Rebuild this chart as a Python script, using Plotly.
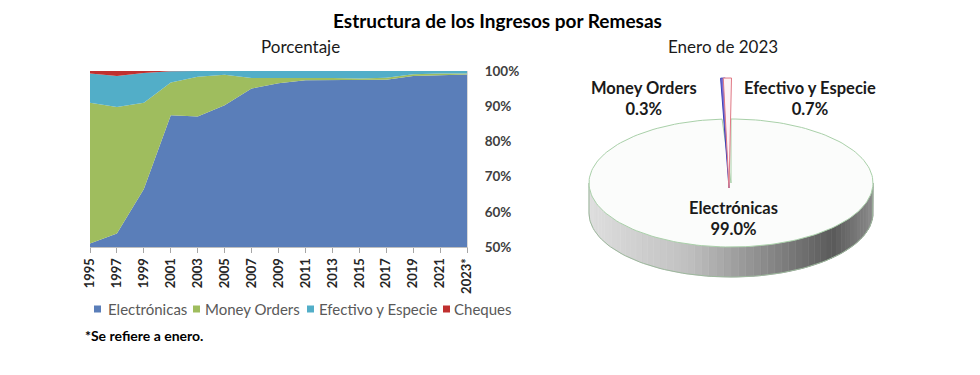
import math
import plotly.graph_objects as go

# ---------------- data ----------------
years = ["1995", "1997", "1999", "2001", "2003", "2005", "2007", "2009",
         "2011", "2013", "2015", "2017", "2019", "2021", "2023*"]
electronicas = [51.0, 53.8, 66.5, 87.4, 87.1, 90.3, 95.0, 96.5, 97.4, 97.4, 97.5, 97.5, 98.6, 98.9, 99.0]
money_orders = [40.0, 36.0, 24.5, 9.3, 11.3, 8.6, 3.0, 1.4, 0.6, 0.6, 0.4, 0.6, 0.5, 0.4, 0.3]
efectivo = [8.3, 8.8, 8.4, 3.2, 1.6, 1.1, 2.0, 2.1, 2.0, 2.0, 2.1, 1.9, 0.9, 0.7, 0.7]
cheques = [0.7, 1.4, 0.6, 0.1, 0.0, 0.0, 0.0, 0.0, 0.0, 0.0, 0.0, 0.0, 0.0, 0.0, 0.0]

series_names = ["Electrónicas", "Money Orders", "Efectivo y Especie", "Cheques"]
series_colors = ["#5a7eb9", "#9fbd5e", "#52aec8", "#c0302f"]

pie_labels = ["Electrónicas", "Money Orders", "Efectivo y Especie"]
pie_values = [99.0, 0.3, 0.7]

y_ticks = [50, 60, 70, 80, 90, 100]

W, H = 980, 375
FONT = "Lato"


def px(x):
    return x / W


def py(y):
    return 1 - y / H


fig = go.Figure()

# ---------------- stacked area ----------------
for name, vals, col in zip(series_names, [electronicas, money_orders, efectivo, cheques], series_colors):
    fig.add_trace(go.Scatter(
        x=years, y=vals, name=name, stackgroup="one", mode="lines",
        line=dict(width=0, color=col), fillcolor=col, showlegend=False,
        xaxis="x", yaxis="y", hoverinfo="x+y+name"))

# ---------------- 3D-style pie (drawn from values) ----------------
cx, cy, rx, ry, depth, pull = 731.0, 183.0, 142.0, 64.0, 30.0, 41.0
total = sum(pie_values)
angles = []
a = 0.0
for v in pie_values:
    span = 360.0 * v / total
    angles.append((a, a + span))
    a += span


def ept(phi_deg, ox=0.0, oy=0.0, dy=0.0):
    p = math.radians(phi_deg)
    return cx + ox + rx * math.sin(p), cy + oy - ry * math.cos(p) + dy


stops = [(0.0, 222), (0.35, 192), (0.65, 132), (0.86, 90), (1.0, 140)]


def gray(t):
    for (t0, g0), (t1, g1) in zip(stops[:-1], stops[1:]):
        if t0 <= t <= t1:
            g = int(round(g0 + (g1 - g0) * (t - t0) / (t1 - t0)))
            return f"rgb({g},{g},{g})"
    return "rgb(200,200,200)"


N = 60
for i in range(N):
    p0 = 90 + 180 * i / N
    p1 = 90 + 180 * (i + 1) / N
    sub = [p0 + (p1 - p0) * k / 4 for k in range(5)]
    top = [ept(p) for p in sub]
    bot = [ept(p, dy=depth) for p in reversed(sub)]
    pts = top + bot
    xm = (top[0][0] + top[-1][0]) / 2
    t = (xm - (cx - rx)) / (2 * rx)
    c = gray(t)
    fig.add_trace(go.Scatter(
        x=[q[0] for q in pts] + [pts[0][0]], y=[q[1] for q in pts] + [pts[0][1]],
        mode="lines", fill="toself", fillcolor=c, line=dict(width=0.6, color=c),
        xaxis="x2", yaxis="y2", showlegend=False, hoverinfo="skip"))

outline = [ept(90)] + [ept(90 + 180 * k / 90, dy=depth) for k in range(91)] + [ept(270)]
fig.add_trace(go.Scatter(
    x=[q[0] for q in outline], y=[q[1] for q in outline], mode="lines",
    line=dict(width=1, color="#9db89d"), xaxis="x2", yaxis="y2",
    showlegend=False, hoverinfo="skip"))

a0, a1 = angles[0]
steps = 180
face = [(cx, cy)] + [ept(a0 + (a1 - a0) * k / steps) for k in range(steps + 1)] + [(cx, cy)]
fig.add_trace(go.Scatter(
    x=[q[0] for q in face], y=[q[1] for q in face], mode="lines", fill="toself",
    fillcolor="#fbfcfb", line=dict(width=1, color="#a9d0a9"),
    xaxis="x2", yaxis="y2", showlegend=False, name=pie_labels[0], hoverinfo="name"))

sliver_style = [("#7a6ed4", "#3d3fb5"), ("#fdf3f4", "#e07a86")]
for (b0, b1), (fc, lc), lab in zip(angles[1:], sliver_style, pie_labels[1:]):
    oy = -pull
    P0 = ept(b0 - 0.6, 0, oy)
    P1 = ept(b1 + 0.2, 0, oy)
    apex = (cx - 2, cy + 5)
    poly = [P0, P1, apex, P0]
    fig.add_trace(go.Scatter(
        x=[q[0] for q in poly], y=[q[1] for q in poly], mode="lines", fill="toself",
        fillcolor=fc, line=dict(width=1, color=lc), xaxis="x2", yaxis="y2",
        showlegend=False, name=lab, hoverinfo="name"))

annotations = []
label_pos = [(733, 218), (644, 98), (810, 98)]
for lab, v, (lx, ly) in zip(pie_labels, pie_values, label_pos):
    annotations.append(dict(
        x=lx, y=ly, xref="x2", yref="y2", text=f"{lab}<br>{v:.1f}%", showarrow=False,
        font=dict(family=FONT, size=16.5, color="#1a1a1a", weight="bold"),
        align="center", xanchor="center", yanchor="middle"))

annotations += [
    dict(x=px(497), y=py(20), xref="paper", yref="paper", text="Estructura de los Ingresos por Remesas",
         showarrow=False, font=dict(family=FONT, size=19, color="#000000", weight="bold"),
         xanchor="center", yanchor="middle"),
    dict(x=px(300), y=py(47), xref="paper", yref="paper", text="Porcentaje",
         showarrow=False, font=dict(family=FONT, size=17, color="#1a1a1a"),
         xanchor="center", yanchor="middle"),
    dict(x=px(723), y=py(47), xref="paper", yref="paper", text="Enero de 2023",
         showarrow=False, font=dict(family=FONT, size=17, color="#1a1a1a"),
         xanchor="center", yanchor="middle"),
    dict(x=px(83), y=py(335), xref="paper", yref="paper", text="*Se refiere a enero.",
         showarrow=False, font=dict(family=FONT, size=14, color="#000000", weight="bold"),
         xanchor="left", yanchor="middle"),
]

# legend (square swatches + labels)
legend_marker_x = [94, 193, 307, 443]
legend_text_x = [106, 203, 317, 452]
shapes = []
for name, col, mx, tx in zip(series_names, series_colors, legend_marker_x, legend_text_x):
    shapes.append(dict(type="rect", xref="paper", yref="paper",
                       x0=px(mx), x1=px(mx + 7), y0=py(312.5), y1=py(305.5),
                       fillcolor=col, line=dict(width=0)))
    annotations.append(dict(x=px(tx), y=py(309), xref="paper", yref="paper", text=name,
                            showarrow=False, xanchor="left", yanchor="middle",
                            font=dict(family=FONT, size=15, color="#595959")))

fig.update_layout(
    width=W, height=H, margin=dict(l=0, r=0, t=0, b=0, pad=0), autosize=False,
    paper_bgcolor="white", plot_bgcolor="rgba(0,0,0,0)",
    font=dict(family=FONT),
    xaxis=dict(domain=[px(90), px(467)], type="category", range=[0, len(years) - 1],
               tickangle=-90, ticks="outside", ticklen=5, tickcolor="#a6a6a6",
               showline=True, linecolor="#bfbfbf", linewidth=1, showgrid=False,
               tickfont=dict(family=FONT, size=13, color="#262626", weight="bold"),
               automargin=False, fixedrange=True),
    yaxis=dict(domain=[py(247), py(71)], range=[50, 100], side="right", tickvals=y_ticks,
               ticktext=[f"{v}%" for v in y_ticks], showgrid=False, zeroline=False,
               showline=True, linecolor="#d9d9d9", ticks="", ticklabelstandoff=14,
               tickfont=dict(family=FONT, size=13.5, color="#404040", weight="bold"),
               automargin=False, fixedrange=True),
    xaxis2=dict(domain=[px(560), px(920)], range=[560, 920], visible=False,
                automargin=False, fixedrange=True),
    yaxis2=dict(domain=[py(300), py(55)], range=[300, 55], visible=False,
                automargin=False, fixedrange=True),
    annotations=annotations,
    shapes=shapes,
    showlegend=False,
)

fig.write_html("out.html", config={"displayModeBar": False},
               post_script="document.body.style.margin='0';document.body.style.padding='0';")
